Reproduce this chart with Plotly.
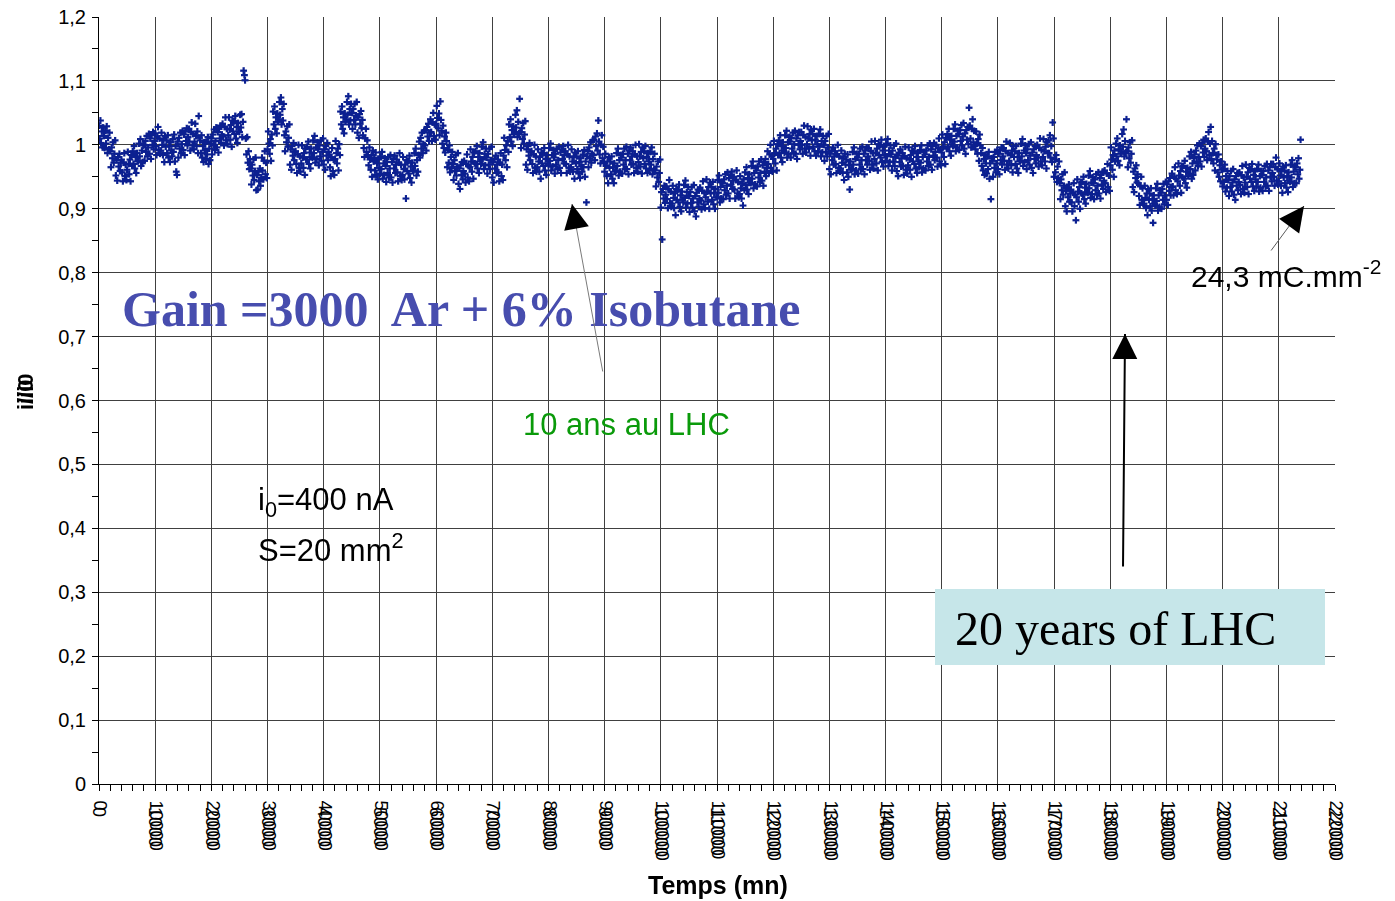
import numpy as np
import plotly.graph_objects as go

# Relative current i/i0 logged every 125 minutes, in thousandths
SAMPLE_STEP_MN = 125
ratio_milli = [
    1030, 1010, 1038, 1003, 1021, 996, 1027, 1014, 995, 1022, 1002, 1029, 987, 1011, 993, 1019,
    990, 965, 996, 979, 1004, 972, 986, 1007, 952, 976, 944, 981, 966, 986, 959, 972,
    977, 957, 943, 972, 987, 951, 969, 945, 961, 989, 970, 954, 977, 943, 984, 967,
    990, 970, 998, 963, 981, 956, 987, 974, 975, 1002, 982, 1009, 967, 991, 973, 999,
    1000, 975, 1006, 989, 1014, 982, 996, 1017, 986, 1010, 978, 1015, 1000, 1020, 993, 1006,
    1018, 998, 984, 1013, 1028, 992, 1010, 986, 991, 1019, 1000, 984, 1007, 973, 1014, 997,
    1007, 987, 1015, 980, 998, 973, 1004, 991, 982, 1009, 989, 1016, 974, 998, 958, 953,
    1005, 980, 1011, 994, 1019, 987, 1001, 1022, 992, 1016, 984, 1021, 1006, 1026, 999, 1012,
    1025, 1005, 991, 1020, 1035, 999, 1017, 993, 1005, 1033, 1014, 998, 1021, 987, 1045, 1011,
    1007, 987, 1015, 980, 998, 973, 1004, 991, 978, 1005, 985, 1012, 970, 994, 976, 1002,
    1010, 985, 1016, 999, 1024, 992, 1006, 1027, 996, 1020, 988, 1025, 1010, 1030, 1003, 1016,
    1033, 1013, 999, 1028, 1043, 1007, 1025, 1001, 1015, 1043, 1024, 1008, 1031, 997, 1038, 1021,
    1037, 1017, 1045, 1010, 1028, 1003, 1034, 1021, 1020, 1047, 1027, 1048, 1012, 1036, 1116, 1109,
    1101, 1010, 985, 1012, 972, 990, 962, 978, 963, 938, 969, 952, 977, 945, 959, 980,
    929, 953, 930, 958, 943, 963, 936, 949, 980, 960, 946, 975, 990, 954, 972, 948,
    993, 1021, 1002, 986, 1009, 975, 1016, 999, 1052, 1032, 1060, 1025, 1043, 1018, 1049, 1036,
    1040, 1067, 1047, 1074, 1032, 1056, 1038, 1064, 1015, 990, 1021, 1004, 1029, 997, 1011, 1032,
    969, 993, 961, 998, 983, 1003, 976, 989, 990, 970, 956, 985, 1000, 964, 982, 958,
    971, 999, 980, 964, 987, 953, 994, 977, 997, 977, 1005, 970, 988, 963, 994, 981,
    980, 1007, 987, 1014, 972, 996, 978, 1004, 993, 968, 999, 982, 1007, 975, 989, 1010,
    969, 993, 961, 998, 983, 1003, 976, 989, 985, 965, 951, 980, 995, 959, 977, 953,
    978, 1006, 987, 971, 994, 960, 1001, 984, 1052, 1032, 1060, 1025, 1043, 1018, 1049, 1036,
    1040, 1067, 1047, 1076, 1032, 1056, 1038, 1064, 1050, 1025, 1056, 1039, 1064, 1032, 1046, 1067,
    1019, 1043, 1011, 1048, 1033, 1053, 1026, 1039, 1015, 995, 981, 1010, 1025, 989, 1007, 983,
    968, 996, 977, 961, 984, 950, 991, 974, 980, 960, 988, 953, 971, 946, 977, 964,
    955, 982, 962, 989, 947, 971, 953, 979, 967, 942, 973, 956, 981, 949, 963, 984,
    949, 973, 941, 978, 963, 983, 956, 969, 977, 957, 943, 972, 987, 951, 969, 945,
    953, 981, 962, 946, 969, 916, 976, 959, 975, 955, 983, 948, 966, 941, 972, 959,
    960, 987, 967, 994, 952, 976, 958, 984, 1005, 980, 1011, 994, 1019, 987, 1001, 1022,
    999, 1023, 991, 1028, 1013, 1033, 1006, 1019, 1040, 1020, 1006, 1035, 1050, 1014, 1032, 1008,
    1033, 1061, 1042, 1026, 1049, 1015, 1068, 1039, 1022, 1002, 1030, 995, 1013, 988, 1019, 1006,
    965, 992, 972, 999, 957, 981, 963, 989, 970, 945, 976, 959, 984, 952, 966, 987,
    939, 963, 931, 968, 953, 973, 946, 959, 975, 955, 941, 970, 985, 949, 967, 943,
    965, 993, 974, 958, 981, 947, 988, 971, 990, 970, 998, 963, 981, 956, 987, 974,
    970, 997, 977, 1004, 962, 986, 968, 994, 980, 955, 986, 969, 994, 962, 976, 997,
    949, 973, 941, 978, 963, 983, 956, 969, 977, 957, 943, 972, 987, 951, 969, 945,
    983, 1011, 992, 976, 999, 965, 1006, 989, 1032, 1012, 1040, 1005, 1023, 998, 1029, 1016,
    1020, 1047, 1027, 1054, 1012, 1036, 1018, 1072, 1020, 995, 1026, 1009, 1034, 1002, 1016, 1037,
    969, 993, 961, 998, 983, 1003, 976, 989, 990, 970, 956, 985, 1000, 964, 982, 958,
    965, 993, 974, 958, 981, 947, 988, 971, 987, 967, 995, 960, 978, 953, 984, 971,
    968, 995, 975, 1002, 960, 984, 966, 992, 980, 955, 986, 969, 994, 962, 976, 997,
    964, 988, 956, 993, 978, 998, 971, 984, 990, 970, 956, 985, 1000, 964, 982, 958,
    965, 993, 974, 958, 981, 947, 988, 971, 982, 962, 990, 955, 973, 948, 979, 966,
    958, 985, 965, 992, 950, 974, 910, 982, 990, 965, 996, 979, 1004, 972, 986, 1007,
    984, 1008, 976, 1013, 998, 1018, 991, 1038, 1005, 985, 971, 1000, 1015, 979, 997, 973,
    958, 986, 967, 951, 974, 940, 981, 964, 974, 954, 982, 947, 965, 940, 971, 958,
    960, 987, 967, 994, 952, 976, 958, 984, 980, 955, 986, 969, 994, 962, 976, 997,
    962, 986, 954, 991, 976, 996, 969, 982, 990, 970, 956, 985, 1000, 964, 982, 958,
    973, 1001, 982, 966, 989, 955, 996, 979, 990, 970, 998, 963, 981, 956, 987, 974,
    962, 989, 969, 996, 954, 978, 960, 986, 960, 935, 966, 949, 974, 942, 956, 977,
    902, 926, 852, 931, 916, 936, 909, 922, 935, 915, 901, 930, 945, 909, 927, 903,
    908, 936, 917, 901, 924, 890, 931, 914, 930, 910, 938, 903, 921, 896, 927, 914,
    910, 937, 917, 944, 902, 926, 908, 934, 920, 895, 926, 909, 934, 902, 916, 937,
    896, 920, 888, 925, 910, 930, 903, 916, 933, 913, 899, 928, 943, 907, 925, 901,
    918, 946, 927, 911, 934, 900, 941, 924, 934, 914, 942, 907, 925, 900, 931, 918,
    918, 945, 925, 952, 910, 934, 916, 942, 940, 915, 946, 929, 954, 922, 936, 957,
    924, 948, 916, 953, 938, 958, 931, 944, 950, 930, 916, 945, 960, 924, 942, 918,
    923, 951, 932, 916, 939, 905, 946, 929, 957, 937, 965, 930, 948, 923, 954, 941,
    940, 967, 947, 974, 932, 956, 938, 964, 960, 935, 966, 949, 974, 942, 956, 977,
    944, 968, 936, 973, 958, 978, 951, 964, 990, 970, 956, 985, 1000, 964, 982, 958,
    978, 1006, 987, 971, 994, 960, 1001, 984, 1007, 987, 1015, 980, 998, 973, 1004, 991,
    988, 1015, 995, 1022, 980, 1004, 986, 1012, 1005, 980, 1011, 994, 1019, 987, 1001, 1022,
    986, 1010, 978, 1015, 1000, 1020, 993, 1006, 1020, 1000, 986, 1015, 1030, 994, 1012, 988,
    1001, 1029, 1010, 994, 1017, 983, 1024, 1007, 1017, 997, 1025, 990, 1008, 983, 1014, 1001,
    990, 1017, 997, 1024, 982, 1006, 988, 1014, 1000, 975, 1006, 989, 1014, 982, 996, 1017,
    962, 986, 954, 991, 976, 996, 969, 982, 990, 970, 956, 985, 1000, 964, 982, 958,
    963, 991, 972, 956, 979, 945, 986, 969, 977, 957, 985, 950, 968, 930, 974, 961,
    962, 989, 969, 996, 954, 978, 960, 986, 980, 955, 986, 969, 994, 962, 976, 997,
    962, 986, 954, 991, 976, 996, 969, 982, 995, 975, 961, 990, 1005, 969, 987, 963,
    978, 1006, 987, 971, 994, 960, 1001, 984, 1000, 980, 1008, 973, 991, 966, 997, 984,
    975, 1002, 982, 1009, 967, 991, 973, 999, 985, 960, 991, 974, 999, 967, 981, 1002,
    959, 983, 951, 988, 973, 993, 966, 979, 987, 967, 953, 982, 997, 961, 979, 955,
    968, 996, 977, 961, 984, 950, 991, 974, 990, 970, 998, 963, 981, 956, 987, 974,
    965, 992, 972, 999, 957, 981, 963, 989, 985, 960, 991, 974, 999, 967, 981, 1002,
    969, 993, 961, 998, 983, 1003, 976, 989, 1000, 980, 966, 995, 1010, 974, 992, 968,
    988, 1016, 997, 981, 1004, 970, 1011, 994, 1017, 997, 1025, 990, 1008, 983, 1014, 1001,
    998, 1025, 1005, 1032, 990, 1014, 996, 1022, 1017, 992, 1023, 1006, 1031, 999, 1013, 1034,
    994, 1018, 986, 1023, 1008, 1028, 1001, 1058, 1030, 1010, 996, 1025, 1040, 1004, 1022, 998,
    993, 1021, 1002, 986, 1009, 975, 1016, 999, 987, 967, 995, 960, 978, 953, 984, 971,
    955, 982, 962, 989, 947, 971, 915, 979, 975, 950, 981, 964, 989, 957, 971, 992,
    962, 986, 954, 991, 976, 996, 969, 982, 995, 975, 961, 990, 1005, 969, 987, 963,
    975, 1003, 984, 968, 991, 957, 998, 981, 990, 970, 998, 963, 981, 956, 987, 974,
    975, 1002, 982, 1009, 967, 991, 973, 999, 987, 962, 993, 976, 1001, 969, 983, 1004,
    964, 988, 956, 993, 978, 998, 971, 984, 1000, 980, 966, 995, 1010, 974, 992, 968,
    981, 1009, 990, 974, 997, 963, 1004, 987, 1007, 987, 1015, 980, 998, 973, 1035, 1010,
    950, 977, 957, 984, 942, 966, 948, 974, 940, 915, 946, 929, 954, 922, 936, 957,
    904, 928, 896, 933, 918, 938, 911, 924, 930, 910, 896, 925, 940, 904, 922, 882,
    918, 946, 927, 911, 934, 900, 941, 924, 942, 922, 950, 915, 933, 908, 939, 926,
    925, 952, 932, 959, 917, 941, 923, 949, 940, 915, 946, 929, 954, 922, 936, 957,
    924, 948, 916, 953, 938, 958, 931, 944, 960, 940, 926, 955, 970, 934, 952, 928,
    968, 996, 977, 961, 984, 950, 991, 974, 1002, 982, 1010, 975, 993, 968, 999, 986,
    990, 1017, 997, 1024, 982, 1006, 988, 1040, 990, 965, 996, 979, 1004, 972, 986, 1007,
    934, 958, 926, 963, 948, 968, 941, 954, 940, 920, 906, 935, 950, 914, 932, 908,
    908, 936, 917, 901, 924, 890, 931, 914, 924, 904, 932, 897, 915, 878, 921, 908,
    905, 932, 912, 939, 897, 921, 903, 929, 925, 900, 931, 914, 939, 907, 921, 942,
    914, 938, 906, 943, 928, 948, 921, 934, 955, 935, 921, 950, 965, 929, 947, 923,
    943, 971, 952, 936, 959, 925, 966, 949, 967, 947, 975, 940, 958, 933, 964, 951,
    955, 982, 962, 989, 947, 971, 953, 979, 985, 960, 991, 974, 999, 967, 981, 1002,
    974, 998, 966, 1003, 988, 1008, 981, 994, 1010, 990, 976, 1005, 1020, 984, 1002, 1028,
    978, 1006, 987, 971, 994, 960, 1001, 984, 977, 957, 985, 950, 968, 943, 974, 961,
    935, 962, 942, 969, 927, 951, 933, 959, 945, 920, 951, 934, 959, 927, 941, 962,
    922, 946, 914, 951, 936, 956, 929, 942, 957, 937, 923, 952, 967, 931, 949, 925,
    941, 969, 950, 934, 957, 923, 964, 947, 962, 942, 970, 935, 953, 928, 959, 946,
    935, 962, 942, 969, 927, 951, 933, 959, 953, 928, 959, 942, 967, 935, 949, 970,
    936, 960, 928, 965, 950, 970, 943, 956, 970, 950, 936, 965, 980, 944, 962, 938,
    943, 971, 952, 936, 959, 925, 966, 949, 960, 940, 968, 933, 951, 926, 957, 944,
    942, 969, 949, 976, 934, 958, 940, 966, 965, 940, 971, 954, 979, 947, 961, 1008,
]

i_over_i0 = np.array(ratio_milli) / 1000.0
temps_mn = np.arange(len(ratio_milli)) * SAMPLE_STEP_MN

# Axis ticks
x_major = list(range(0, 220001, 10000))
x_labels_main = [str(v) for v in x_major]
x_labels_echo = [str(v // 10) for v in x_major]
y_major = [k / 10 for k in range(13)]
y_labels = ["0", "0,1", "0,2", "0,3", "0,4", "0,5", "0,6",
            "0,7", "0,8", "0,9", "1", "1,1", "1,2"]

# Page geometry (pixels)
W, H = 1395, 901
L, R, T, B = 99, 1335, 17, 784

def px(xp):
    return (xp - L) / (R - L)

def py(yp):
    return (B - yp) / (B - T)

SANS = "Liberation Sans, Arial, sans-serif"
SERIF = "Liberation Serif, Times New Roman, serif"

fig = go.Figure()
fig.add_trace(go.Scattergl(
    x=temps_mn, y=i_over_i0, mode="markers",
    marker=dict(symbol="cross", size=6, color="#0B1F90", line=dict(width=0)),
    hoverinfo="skip", showlegend=False,
))
# Empty companion trace so the overlaid caption axis is rendered
fig.add_trace(go.Scatter(x=[], y=[], xaxis="x2", yaxis="y",
                         hoverinfo="skip", showlegend=False))

annotations = []

# Axis title on the left, printed twice
for shift in (0, 6):
    annotations.append(dict(
        x=px(25), y=py(395), xref="paper", yref="paper", text="<b>i/i0</b>",
        showarrow=False, textangle=-90, xanchor="center", yanchor="middle",
        yshift=shift, font=dict(family=SANS, size=22, color="black"),
    ))

annotations += [
    dict(x=px(718), y=py(885), xref="paper", yref="paper", text="<b>Temps (mn)</b>",
         showarrow=False, xanchor="center", yanchor="middle",
         font=dict(family=SANS, size=25, color="black")),
    dict(x=px(120), y=py(309), xref="paper", yref="paper",
         text="<b>Gain =3000  Ar + 6% Isobutane</b>", showarrow=False,
         xanchor="left", yanchor="middle",
         font=dict(family=SERIF, size=50, color="#474DAE")),
    dict(x=px(521), y=py(424), xref="paper", yref="paper", text="10 ans au LHC",
         showarrow=False, xanchor="left", yanchor="middle",
         font=dict(family=SANS, size=31, color="#0A9A0A")),
    dict(x=px(256), y=py(502), xref="paper", yref="paper", text="i<sub>0</sub>=400 nA",
         showarrow=False, xanchor="left", yanchor="middle",
         font=dict(family=SANS, size=31, color="black")),
    dict(x=px(256), y=py(548), xref="paper", yref="paper", text="S=20 mm<sup>2</sup>",
         showarrow=False, xanchor="left", yanchor="middle",
         font=dict(family=SANS, size=31, color="black")),
    dict(x=px(1189), y=py(274), xref="paper", yref="paper", text="24,3 mC.mm<sup>-2</sup>",
         showarrow=False, xanchor="left", yanchor="middle",
         font=dict(family=SANS, size=30, color="black")),
    dict(x=px(953), y=py(628), xref="paper", yref="paper", text="20 years of LHC",
         showarrow=False, xanchor="left", yanchor="middle",
         font=dict(family=SERIF, size=48, color="black")),
]

# Pointers: shafts with black heads
def pointer(tip, tail, shaft_color, shaft_width, head_size):
    (tx, ty), (sx, sy) = tip, tail
    dx, dy = sx - tx, sy - ty
    n = (dx * dx + dy * dy) ** 0.5
    out = [dict(x=px(tx), y=py(ty), xref="paper", yref="paper", text="",
                showarrow=True, arrowhead=0, arrowwidth=shaft_width,
                arrowcolor=shaft_color, ax=dx, ay=dy, standoff=0)]
    out.append(dict(x=px(tx), y=py(ty), xref="paper", yref="paper", text="",
                    showarrow=True, arrowhead=2, arrowwidth=shaft_width,
                    arrowsize=head_size, arrowcolor="black",
                    ax=dx / n * 24, ay=dy / n * 24, standoff=0))
    return out

annotations += pointer((572, 204), (603, 373), "#7a7a7a", 1, 5)
annotations += pointer((1304, 206), (1270, 252), "#5a5a5a", 1, 5)
annotations += pointer((1125, 334), (1123, 568), "black", 2, 2.5)

shapes = [dict(type="rect", xref="paper", yref="paper",
               x0=px(935), x1=px(1325), y0=py(665), y1=py(589),
               fillcolor="#C6E6E9", line=dict(width=0), layer="above")]

fig.update_layout(
    width=W, height=H,
    margin=dict(l=L, r=W - R, t=T, b=H - B, pad=0, autoexpand=False),
    paper_bgcolor="white", plot_bgcolor="white",
    font=dict(family=SANS, color="black"),
    xaxis=dict(
        range=[0, 220000], tickmode="array", tickvals=x_major, ticktext=x_labels_main,
        tickangle=90, tickfont=dict(family=SANS, size=18, color="black"),
        ticklabelstandoff=6, ticklabelshift=1, automargin=False,
        ticks="outside", ticklen=6, tickcolor="black",
        showline=True, linecolor="black", linewidth=1,
        showgrid=True, gridcolor="#404040", gridwidth=1, zeroline=False,
        minor=dict(dtick=2000, tick0=0, ticks="outside", ticklen=6,
                   tickcolor="black", showgrid=False),
    ),
    # Second caption row, drawn on an overlaid copy of the time axis
    xaxis2=dict(
        range=[0, 220000], overlaying="x", side="bottom", anchor="y",
        tickmode="array", tickvals=x_major, ticktext=x_labels_echo,
        tickangle=90, tickfont=dict(family=SANS, size=18, color="black"),
        ticks="", ticklabelstandoff=22, ticklabelshift=0, automargin=False,
        showline=False, showgrid=False, zeroline=False,
    ),
    yaxis=dict(
        range=[0, 1.2], tickmode="array", tickvals=y_major, ticktext=y_labels,
        tickfont=dict(family=SANS, size=20, color="black"),
        ticklabelstandoff=2, automargin=False,
        ticks="outside", ticklen=6, tickcolor="black",
        showline=True, linecolor="black", linewidth=1,
        showgrid=True, gridcolor="#404040", gridwidth=1, zeroline=False,
        minor=dict(dtick=0.05, tick0=0, ticks="outside", ticklen=6,
                   tickcolor="black", showgrid=False),
    ),
    annotations=annotations,
    shapes=shapes,
)

fig.write_html("out.html")
